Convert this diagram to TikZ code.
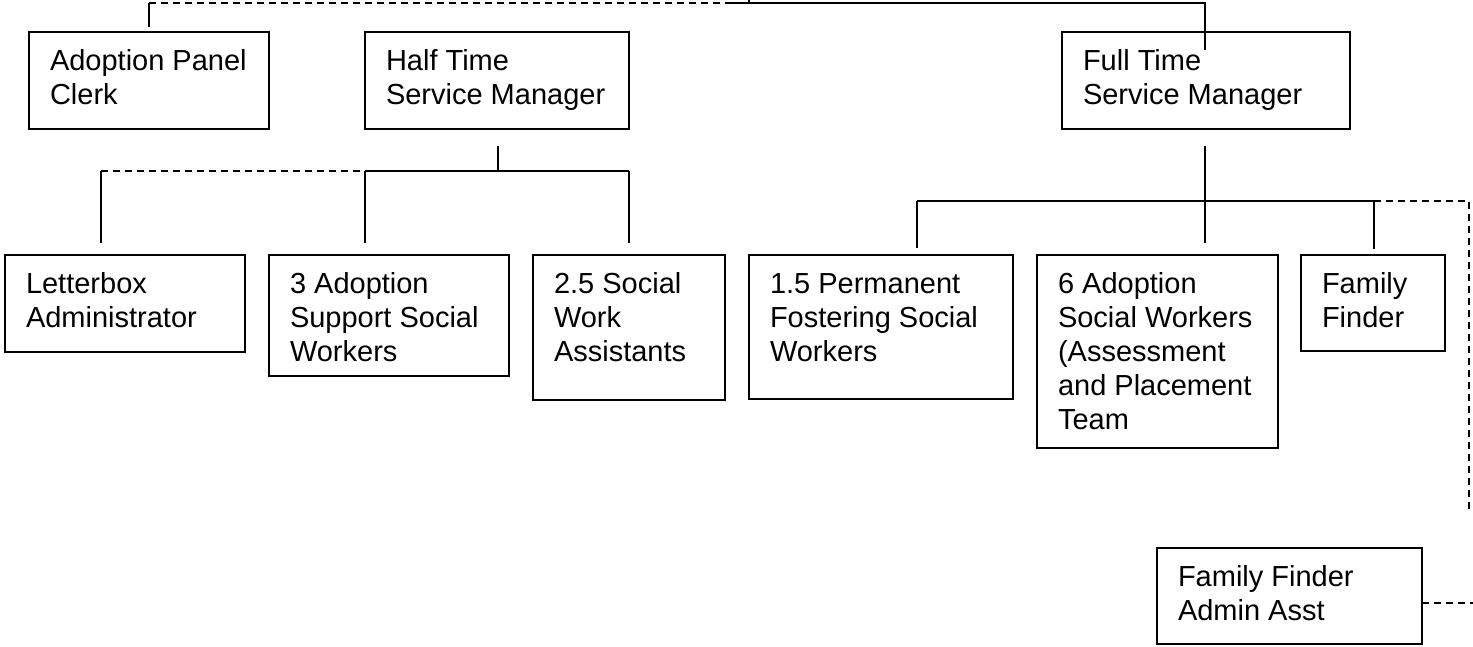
\documentclass[tikz,border=0pt]{standalone}
\usepackage{fontspec}
\setmainfont{Liberation Sans}
\usetikzlibrary{calc}

% box with its title set from the top-left corner
\newcommand\orgbox[6]{%
  \node[box, minimum width=#4pt, minimum height=#5pt] (#1) at (#2,#3) {};
  \node[lbl] (#1-text) at ($(#1.north west)+(21,16.5)$) {\rule{0pt}{21.5pt}#6};
}

\begin{document}
\begin{tikzpicture}[x=1pt,y=-1pt,line width=2.2pt,
  box/.style={draw, line width=2.2pt, inner sep=0pt, outer sep=0pt, anchor=north west},
  lbl/.style={anchor=north west, inner sep=0pt, outer sep=0pt, align=left,
              font=\fontsize{29}{34}\selectfont},
  dashline/.style={dash pattern=on 7pt off 5pt}]
\useasboundingbox (0,0) rectangle (1473,646);

% top row
\orgbox{clerk}{29}{32}{240}{97}{Adoption Panel\\Clerk}
\orgbox{half}{365}{32}{264}{97}{Half Time\\Service Manager}
\orgbox{full}{1062}{32}{288}{97}{Full Time\\Service Manager}

% second row
\orgbox{letter}{5}{255}{240}{97}{Letterbox\\Administrator}
\orgbox{supp}{269}{255}{240}{121}{3 Adoption\\Support Social\\Workers}
\orgbox{swa}{533}{255}{192}{145}{2.5 Social\\Work\\Assistants}
\orgbox{perm}{749}{255}{264}{144}{1.5 Permanent\\Fostering Social\\Workers}
\orgbox{asw}{1037}{255}{241}{193}{6 Adoption\\Social Workers\\(Assessment\\and Placement\\Team}
\orgbox{ff}{1301}{255}{144}{96}{Family\\Finder}

% bottom
\orgbox{ffa}{1157}{548}{265}{96}{Family Finder\\Admin Asst}

% line along the top edge
\coordinate (clerkUp) at (149,27);
\coordinate (topA) at (149,3);
\coordinate (topB) at (725,3);
\coordinate (topC) at (1205,3);
\coordinate (fullIn) at (1205,50);
\coordinate (stubT) at (749,0);
\coordinate (stubB) at (749,3);
\draw (clerkUp) -- (topA);
\draw[dashline] (topA) -- (topB);
\draw (topB) -- (topC) -- (fullIn);
\draw (stubT) -- (stubB);

% half time manager's team
\coordinate (hS) at (498,146);
\coordinate (hJ) at (498,171);
\coordinate (hL) at (101,171);
\coordinate (hM) at (365,171);
\coordinate (hR) at (629,171);
\coordinate (letterUp) at (101,243);
\coordinate (suppUp) at (365,243);
\coordinate (swaUp) at (629,243);
\draw (hS) -- (hJ);
\draw[dashline] (hL) -- (hM);
\draw (hM) -- (hR);
\draw (hL) -- (letterUp);
\draw (hM) -- (suppUp);
\draw (hR) -- (swaUp);

% full time manager's team
\coordinate (fS) at (1205,146);
\coordinate (aswUp) at (1205,243);
\coordinate (fL) at (917,201);
\coordinate (fR) at (1374,201);
\coordinate (permUp) at (917,248);
\coordinate (ffUp) at (1374,249);
\coordinate (dR) at (1469,201);
\coordinate (dB) at (1469,513);
\coordinate (ffaR) at (1422,603);
\coordinate (ffaEnd) at (1473,603);
\draw (fS) -- (aswUp);
\draw (fL) -- (fR);
\draw (fL) -- (permUp);
\draw (fR) -- (ffUp);
\draw[dashline] (fR) -- (dR) -- (dB);
\draw[dashline] (ffaR) -- (ffaEnd);
\end{tikzpicture}
\end{document}
